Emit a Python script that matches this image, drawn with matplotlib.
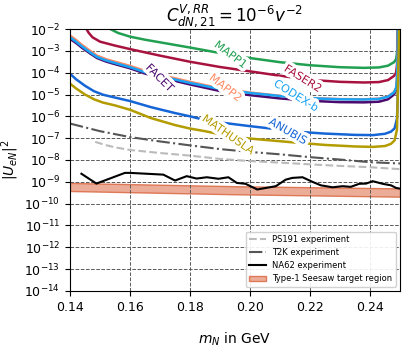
import numpy as np
import matplotlib
matplotlib.use("Agg")
import matplotlib.pyplot as plt
import matplotlib.patheffects as pe

# sensitivity curves as log10(|U_eN|^2)
x_mapp1 = [0.1534, 0.156, 0.160, 0.165, 0.170, 0.175, 0.180, 0.190, 0.200, 0.210, 0.220, 0.230, 0.238, 0.243, 0.246, 0.248, 0.2487, 0.249, 0.2492, 0.2493]
y_mapp1 = [-2.0, -2.18, -2.35, -2.49, -2.61, -2.73, -2.85, -3.1, -3.33, -3.52, -3.66, -3.75, -3.78, -3.76, -3.68, -3.52, -3.38, -3.1, -2.6, -2.0]

x_faser2 = [0.1455, 0.1462, 0.1475, 0.150, 0.155, 0.160, 0.165, 0.170, 0.180, 0.190, 0.200, 0.210, 0.220, 0.230, 0.238, 0.243, 0.246, 0.248, 0.2487, 0.249, 0.2492, 0.2493]
y_faser2 = [-2.0, -2.17, -2.38, -2.58, -2.76, -2.92, -3.07, -3.22, -3.5, -3.74, -3.94, -4.14, -4.33, -4.42, -4.45, -4.43, -4.34, -4.15, -4.0, -3.65, -3.0, -2.0]

x_grp = [0.140, 0.142, 0.144, 0.1467, 0.149, 0.152, 0.155, 0.160, 0.165, 0.172, 0.180, 0.190, 0.200, 0.210, 0.220, 0.230, 0.238, 0.243, 0.246, 0.248, 0.2487, 0.249, 0.2492, 0.2493]
y_codexb = [-2.38, -2.58, -2.8, -3.07, -3.28, -3.44, -3.56, -3.75, -3.98, -4.22, -4.47, -4.75, -4.93, -5.07, -5.17, -5.22, -5.23, -5.2, -5.1, -4.9, -4.7, -4.3, -3.3, -2.0]
y_mapp2 = [-2.3, -2.5, -2.73, -3.0, -3.22, -3.38, -3.5, -3.69, -3.92, -4.16, -4.42, -4.72, -4.91, -5.06, -5.16, -5.21, -5.22, -5.19, -5.09, -4.89, -4.69, -4.3, -3.3, -2.0]
y_facet = [-2.45, -2.64, -2.86, -3.12, -3.33, -3.49, -3.61, -3.8, -4.04, -4.28, -4.54, -4.84, -5.03, -5.18, -5.29, -5.35, -5.36, -5.33, -5.22, -5.0, -4.8, -4.4, -3.4, -2.0]

x_anubis = [0.140, 0.142, 0.145, 0.148, 0.151, 0.155, 0.160, 0.167, 0.175, 0.180, 0.185, 0.190, 0.200, 0.207, 0.215, 0.225, 0.235, 0.241, 0.245, 0.247, 0.2482, 0.249, 0.2494, 0.2497]
y_anubis = [-4.05, -4.3, -4.6, -4.85, -5.01, -5.14, -5.3, -5.58, -5.85, -6.0, -6.17, -6.28, -6.45, -6.56, -6.7, -6.79, -6.85, -6.86, -6.8, -6.7, -6.55, -6.1, -4.5, -2.0]

x_mathusla = [0.140, 0.142, 0.145, 0.148, 0.151, 0.155, 0.160, 0.167, 0.175, 0.180, 0.185, 0.190, 0.197, 0.205, 0.215, 0.225, 0.235, 0.241, 0.245, 0.247, 0.2482, 0.249, 0.2494, 0.2497]
y_mathusla = [-4.5, -4.72, -5.0, -5.22, -5.37, -5.5, -5.7, -6.08, -6.4, -6.56, -6.68, -6.82, -6.98, -7.08, -7.2, -7.31, -7.38, -7.4, -7.36, -7.26, -7.1, -6.6, -4.0, -2.0]

x_t2k = [0.140, 0.150, 0.160, 0.170, 0.180, 0.190, 0.200, 0.210, 0.220, 0.230, 0.240, 0.250]
y_t2k = [-6.33, -6.68, -6.95, -7.15, -7.33, -7.5, -7.63, -7.74, -7.87, -7.98, -8.1, -8.16]

x_ps191 = [0.1484, 0.152, 0.155, 0.160, 0.170, 0.180, 0.190, 0.200, 0.210, 0.220, 0.230, 0.240, 0.250]
y_ps191 = [-7.17, -7.32, -7.42, -7.54, -7.68, -7.8, -7.95, -8.05, -8.12, -8.2, -8.27, -8.33, -8.42]

x_na62 = [0.1438, 0.1488, 0.1583, 0.1600, 0.1711, 0.1750, 0.1789, 0.1822, 0.1856, 0.1895, 0.1928,
          0.1956, 0.1985, 0.2024, 0.2086, 0.2119, 0.2141, 0.2175, 0.2208, 0.2236, 0.2275, 0.2309,
          0.2336, 0.2364, 0.2387, 0.2409, 0.2442, 0.2470, 0.2487, 0.2500]
y_na62 = [-8.63, -9.08, -8.59, -8.59, -8.67, -8.94, -8.74, -8.85, -8.79, -8.86, -8.79,
          -9.05, -9.09, -9.35, -9.2, -8.9, -8.82, -8.79, -9.0, -9.16, -9.25, -9.2,
          -9.23, -9.09, -9.08, -8.97, -9.09, -9.16, -9.28, -9.31]

x_seesaw = [0.14, 0.195, 0.25]
y_seesaw_hi = [-9.05, -9.2, -9.3]
y_seesaw_lo = [-9.42, -9.57, -9.68]

curves = [
    ("MAPP1", x_mapp1, y_mapp1, "#22a052", (0.1935, -3.19), -37),
    ("FASER2", x_faser2, y_faser2, "#a8123e", (0.2176, -4.29), -32),
    ("FACET", x_grp, y_facet, "#4a0a6e", (0.1698, -4.25), -45),
    ("MAPP2", x_grp, y_mapp2, "#ff8a65", (0.1918, -4.71), -38),
    ("CODEX-b", x_grp, y_codexb, "#1aa3f5", (0.2153, -5.07), -32),
    ("ANUBIS", x_anubis, y_anubis, "#1565d6", (0.2126, -6.7), -30),
    ("MATHUSLA", x_mathusla, y_mathusla, "#b39c00", (0.1927, -6.86), -35),
]

fig = plt.figure(figsize=(4.08, 3.49), dpi=100)
ax = fig.add_axes([0.1716, 0.1662, 0.8088, 0.7507])

for name, xs, ys, col, pos, rot in curves:
    ax.plot(xs, 10.0 ** np.array(ys), color=col, lw=1.8)

ax.plot(x_ps191, 10.0 ** np.array(y_ps191), ls="--", color="#bbbbbb", lw=1.5, label="PS191 experiment")
ax.plot(x_t2k, 10.0 ** np.array(y_t2k), ls="-.", color="#555555", lw=1.5, label="T2K experiment")
ax.plot(x_na62, 10.0 ** np.array(y_na62), color="black", lw=1.5, label="NA62 experiment")
ax.fill_between(x_seesaw, 10.0 ** np.array(y_seesaw_lo), 10.0 ** np.array(y_seesaw_hi),
                facecolor="#e8997e", edgecolor="#d9623b", alpha=0.8, lw=1,
                label="Type-1 Seesaw target region")

for name, xs, ys, col, pos, rot in curves:
    ax.text(pos[0], 10.0 ** pos[1], name, color=col, fontsize=8, rotation=rot,
            ha="center", va="center", rotation_mode="anchor",
            path_effects=[pe.withStroke(linewidth=5, foreground="white")], zorder=5)

ax.set_yscale("log")
ax.set_xlim(0.14, 0.25)
ax.set_ylim(1e-14, 1e-2)
ax.set_yticks([10.0 ** k for k in range(-14, -1)])
ax.set_xticks([0.14, 0.16, 0.18, 0.20, 0.22, 0.24])
ax.tick_params(labelsize=9)
ax.grid(True, which="major", ls="--", color="0.35", lw=0.7)
ax.grid(True, which="minor", ls="-", color="0.88", lw=0.5)
ax.set_xlabel("$m_N$ in GeV", labelpad=12)
ax.set_ylabel("$|U_{eN}|^2$", labelpad=0)
ax.yaxis.set_label_coords(-0.15, 0.5)
ax.set_title("$C^{V,RR}_{dN,21} = 10^{-6}v^{-2}$", fontsize=12)
ax.legend(loc="lower right", fontsize=6, framealpha=0.9)

fig.savefig("out.png", dpi=100)
